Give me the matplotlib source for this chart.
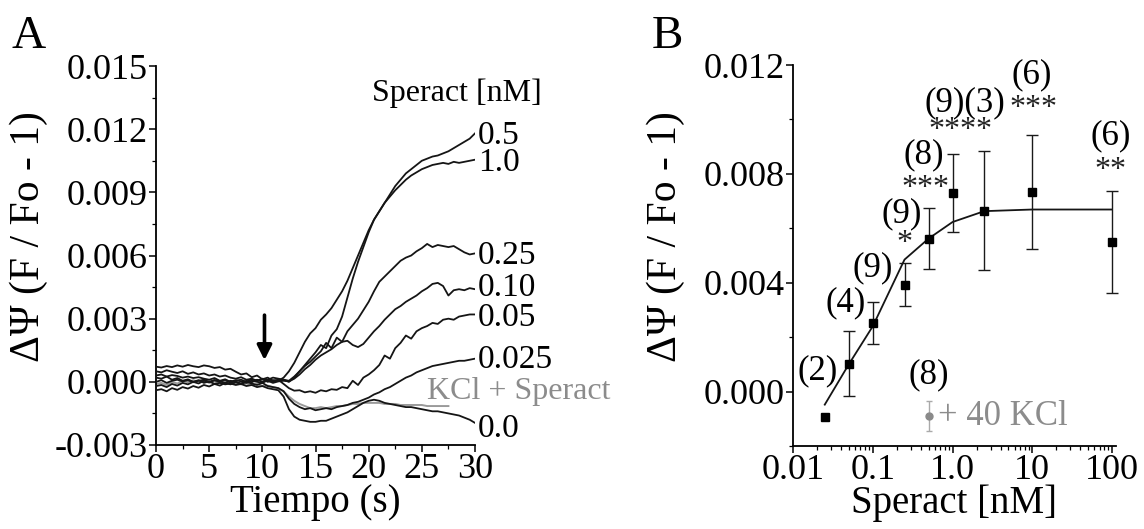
import numpy as np
import matplotlib
matplotlib.use("Agg")
import matplotlib.pyplot as plt
from matplotlib.ticker import MultipleLocator, FixedLocator, FixedFormatter, LogLocator, NullFormatter

plt.rcParams['font.family'] = ['Liberation Serif', 'DejaVu Serif']
plt.rcParams['axes.unicode_minus'] = False

# ---- Panel A: membrane potential traces (values x 1e-3) ----
time_s = np.linspace(0, 30, 61)

trace_0p5 = [0.30, 0.35, 0.25, 0.32, 0.28, 0.20, 0.25, 0.18, 0.22, 0.15, 0.10, 0.18, 0.05, 0.12, 0.00, 0.08,
             0.02, -0.05, 0.05, 0.00, -0.05, 0.08, 0.02, 0.05,
             0.20, 0.50, 0.90, 1.40, 1.90, 2.30, 2.55, 2.95, 3.20, 3.50, 3.90, 4.30, 4.80, 5.40, 6.00, 6.60,
             7.20, 7.70, 8.10, 8.50, 8.90, 9.30, 9.60, 9.90, 10.10, 10.30, 10.50, 10.60, 10.70, 10.75, 10.85,
             10.95, 11.10, 11.25, 11.40, 11.55, 11.80]
trace_1p0 = [-0.20, -0.15, -0.25, -0.10, -0.18, -0.05, -0.12, 0.00, -0.08, 0.05, -0.02, 0.08, 0.00, 0.10,
             -0.05, 0.05, 0.10, 0.00, 0.12, 0.05, 0.15, 0.10, 0.20, 0.15,
             0.10, 0.00, 0.20, 0.50, 0.80, 1.10, 1.40, 1.75, 1.60, 2.20, 2.50, 3.10, 4.00, 4.90, 5.70, 6.40,
             7.10, 7.70, 8.10, 8.50, 8.80, 9.10, 9.35, 9.60, 9.80, 9.95, 10.10, 10.20, 10.30, 10.35, 10.40,
             10.35, 10.45, 10.40, 10.45, 10.50, 10.55]
trace_0p25 = [0.50, 0.45, 0.55, 0.48, 0.42, 0.50, 0.38, 0.45, 0.35, 0.40, 0.30, 0.35, 0.25, 0.30, 0.20, 0.15,
              0.22, 0.10, 0.15, 0.05, 0.12, 0.00, 0.08, 0.05,
              0.10, 0.05, 0.25, 0.50, 0.75, 0.95, 1.20, 1.45, 1.85, 1.60, 2.10, 1.90, 2.40, 2.70, 3.00, 3.40,
              3.80, 4.30, 4.75, 5.00, 5.25, 5.50, 5.75, 5.90, 6.00, 6.20, 6.35, 6.55, 6.40, 6.50, 6.45,
              6.40, 6.45, 6.30, 6.15, 6.05, 6.10]
trace_0p10 = [0.00, 0.08, -0.05, 0.05, 0.10, 0.02, 0.08, -0.02, 0.05, 0.10, 0.00, 0.08, 0.02, -0.05, 0.05,
              0.00, -0.08, 0.05, -0.02, 0.10, 0.00, 0.05, -0.05, 0.02,
              0.05, 0.02, 0.15, 0.35, 0.60, 0.80, 1.05, 1.25, 1.40, 1.55, 1.75, 1.90, 1.95, 1.75, 1.65, 1.80,
              2.10, 2.40, 2.65, 2.95, 3.20, 3.45, 3.60, 3.80, 3.95, 4.10, 4.30, 4.45, 4.65, 4.70, 4.55,
              4.10, 4.35, 4.40, 4.35, 4.45, 4.40]
trace_0p05 = [0.72, 0.68, 0.75, 0.70, 0.78, 0.72, 0.80, 0.74, 0.70, 0.78, 0.74, 0.66, 0.70, 0.58, 0.62, 0.48,
              0.35, 0.40, 0.22, 0.30, 0.12, 0.20, 0.05, 0.10,
              -0.10, -0.30, -0.42, -0.40, -0.50, -0.45, -0.52, -0.40, -0.45, -0.35, -0.38, -0.25, -0.30, 0.05,
              -0.15, 0.20, 0.35, 0.55, 0.80, 1.25, 1.10, 1.60, 1.85, 2.20, 2.05, 2.40, 2.55, 2.65, 2.80,
              2.75, 2.95, 3.00, 2.95, 3.10, 3.15, 3.20, 3.20]
trace_0p025 = [-0.40, -0.35, -0.45, -0.30, -0.38, -0.25, -0.32, -0.20, -0.28, -0.15, -0.22, -0.10, -0.18,
               -0.05, -0.12, -0.02, -0.10, 0.00, -0.08, -0.15, -0.05, -0.20, -0.25, -0.30,
               -0.45, -0.80, -1.05, -1.20, -1.30, -1.25, -1.35, -1.30, -1.25, -1.30, -1.20, -1.15, -1.10,
               -1.00, -0.95, -0.85, -0.75, -0.60, -0.50, -0.35, -0.25, -0.10, 0.05, 0.20, 0.30, 0.45, 0.55,
               0.65, 0.75, 0.80, 0.85, 0.90, 0.95, 1.00, 1.00, 1.05, 1.10]
trace_0p0 = [0.20, 0.15, 0.25, 0.10, 0.18, 0.05, 0.12, 0.00, 0.08, -0.05, 0.02, -0.10, -0.05, -0.12, -0.08,
             -0.15, -0.10, -0.20, -0.15, -0.25, -0.20, -0.30, -0.35, -0.40,
             -0.70, -1.30, -1.65, -1.80, -1.85, -1.90, -1.90, -1.85, -1.85, -1.75, -1.65, -1.55, -1.45, -1.30,
             -1.15, -1.00, -0.90, -0.85, -0.90, -1.00, -1.05, -1.10, -1.15, -1.20, -1.20, -1.25, -1.30,
             -1.35, -1.40, -1.40, -1.45, -1.50, -1.55, -1.60, -1.70, -1.80, -1.95]
trace_kcl = [-0.10, -0.05, -0.15, 0.00, -0.08, 0.05, -0.02, 0.08, 0.00, 0.05, -0.05, 0.02, -0.08, 0.00,
             -0.10, -0.05, -0.12, -0.08, -0.15, -0.10, -0.20, -0.18, -0.25, -0.30,
             -0.45, -0.70, -0.90, -1.05, -1.15, -1.25, -1.25, -1.20, -1.25, -1.20, -1.15, -1.15, -1.10,
             -1.05, -1.05, -1.00, -1.00, -1.00, -1.00, -1.05, -1.05, -1.05, -1.10, -1.10, -1.10, -1.10,
             -1.10, -1.15, -1.15, -1.15, -1.15, -1.15]

trace_labels = ["0.5", "1.0", "0.25", "0.10", "0.05", "0.025", "0.0"]
trace_label_y = [11.7, 10.4, 6.0, 4.45, 3.05, 1.05, -2.25]

# ---- Panel B: dose response (values x 1e-3) ----
speract_nM = [0.025, 0.05, 0.1, 0.25, 0.5, 1.0, 2.5, 10, 100]
dpsi_mean = [-0.93, 1.03, 2.52, 3.93, 5.62, 7.30, 6.65, 7.34, 5.50]
dpsi_sem = [0.0, 1.20, 0.78, 0.79, 1.12, 1.43, 2.19, 2.10, 1.88]
dpsi_fit = [-0.48, 1.00, 2.40, 4.85, 5.62, 6.23, 6.63, 6.69, 6.69]
kcl_conc, kcl_mean, kcl_sem = 0.5, -0.91, 0.55

n_labels = ["(2)", "(4)", "(9)", "(9)", "(8)", "(9)(3)", "(6)", "(6)", "(8)"]
n_label_x = [0.0205, 0.0455, 0.0996, 0.228, 0.436, 1.44, 9.7, 95, 0.50]
n_label_y = [0.75, 3.28, 4.55, 6.54, 8.71, 10.61, 11.65, 9.39, 0.62]
stars = ["*", "***", "****", "***", "**"]
star_x = [0.25, 0.455, 1.24, 10.2, 95]
star_y = [5.16, 7.18, 9.30, 10.12, 7.86]   # baselines

u = 1e-3
fig = plt.figure(figsize=(11.44, 5.29), dpi=100)

axA = fig.add_axes([0.1364, 0.1588, 0.2788, 0.7164])
axB = fig.add_axes([0.6932, 0.1569, 0.2823, 0.7202])

for ax in (axA, axB):
    ax.spines['top'].set_visible(False)
    ax.spines['right'].set_visible(False)
    ax.spines['left'].set_linewidth(1.3)
    ax.spines['bottom'].set_linewidth(1.3)
    ax.tick_params(which='major', direction='out', length=5, width=1.1, labelsize=26, pad=1)
    ax.tick_params(which='minor', direction='out', length=3, width=0.9)

# traces
axA.plot(time_s[:len(trace_kcl)], np.array(trace_kcl) * u, color='#9a9a9a', lw=1.4, zorder=2)
for tr in (trace_0p0, trace_0p025, trace_0p05, trace_0p10, trace_0p25, trace_1p0, trace_0p5):
    axA.plot(time_s, np.array(tr) * u, color='#151515', lw=1.3, zorder=3)

axA.set_xlim(0, 30)
axA.set_ylim(-0.003, 0.015)
axA.xaxis.set_major_locator(MultipleLocator(5))
axA.xaxis.set_minor_locator(MultipleLocator(2.5))
axA.yaxis.set_major_locator(MultipleLocator(0.003))
axA.yaxis.set_minor_locator(MultipleLocator(0.0015))
axA.yaxis.set_major_formatter(plt.FormatStrFormatter('%.3f'))
axA.set_xlabel("Tiempo (s)", fontsize=28, labelpad=-2)
axA.set_ylabel("ΔΨ (F / Fo - 1)", fontsize=30)
axA.yaxis.set_label_coords(-0.34, 0.55)

for lab, y in zip(trace_labels, trace_label_y):
    axA.text(30.3, y * u, lab, fontsize=24, va='center', ha='left', clip_on=False)
axA.text(25.5, -0.45 * u, "KCl + Speract", fontsize=23, color='#8c8c8c', va='center', ha='left')
axA.text(20.3, 13.7 * u, "Speract [nM]", fontsize=23, va='center', ha='left')
axA.annotate('', xy=(10.2, 0.9 * u), xytext=(10.2, 3.3 * u),
             arrowprops=dict(arrowstyle='-|>', lw=2.6, color='k', mutation_scale=22))

# dose response
axB.set_xscale('log')
axB.plot(speract_nM, np.array(dpsi_fit) * u, color='#151515', lw=1.3, zorder=2)
axB.errorbar(speract_nM[1:], np.array(dpsi_mean[1:]) * u, yerr=np.array(dpsi_sem[1:]) * u,
             fmt='none', ecolor='#1a1a1a', elinewidth=1.0, capsize=4, capthick=1.0, zorder=3,
             clip_on=False)
axB.plot(speract_nM, np.array(dpsi_mean) * u, 's', color='k', ms=6, zorder=4, clip_on=False)
axB.errorbar([kcl_conc], [kcl_mean * u], yerr=[kcl_sem * u], fmt='o', color='#8a8a8a', ms=5,
             ecolor='#aaaaaa', elinewidth=1.0, capsize=2, zorder=4)
axB.text(0.66, kcl_mean * u, "+ 40 KCl", fontsize=25, color='#8c8c8c', va='center', ha='left')

for lab, x, y in zip(n_labels, n_label_x, n_label_y):
    axB.text(x, y * u, lab, fontsize=25, ha='center', va='center')
for s, x, y in zip(stars, star_x, star_y):
    axB.text(x, y * u, s, fontsize=23, ha='center', va='baseline', color='#222222')

axB.set_xlim(0.01, 112)
axB.set_ylim(-0.002, 0.012)
axB.xaxis.set_major_locator(FixedLocator([0.01, 0.1, 1, 10, 100]))
axB.xaxis.set_major_formatter(FixedFormatter(["0.01", "0.1", "1.0", "10", "100"]))
axB.xaxis.set_minor_locator(LogLocator(base=10, subs=np.arange(2, 10), numticks=20))
axB.xaxis.set_minor_formatter(NullFormatter())
axB.yaxis.set_major_locator(FixedLocator([0.0, 0.004, 0.008, 0.012]))
axB.yaxis.set_minor_locator(MultipleLocator(0.002))
axB.yaxis.set_major_formatter(plt.FormatStrFormatter('%.3f'))
axB.set_xlabel("Speract [nM]", fontsize=28, labelpad=-2)
axB.set_ylabel("ΔΨ (F / Fo - 1)", fontsize=30)
axB.yaxis.set_label_coords(-0.335, 0.55)

fig.text(12 / 1144, 1 - 48 / 529, "A", fontsize=34, va='baseline', ha='left')
fig.text(652 / 1144, 1 - 48 / 529, "B", fontsize=34, va='baseline', ha='left')

fig.savefig("out.png", dpi=100)
